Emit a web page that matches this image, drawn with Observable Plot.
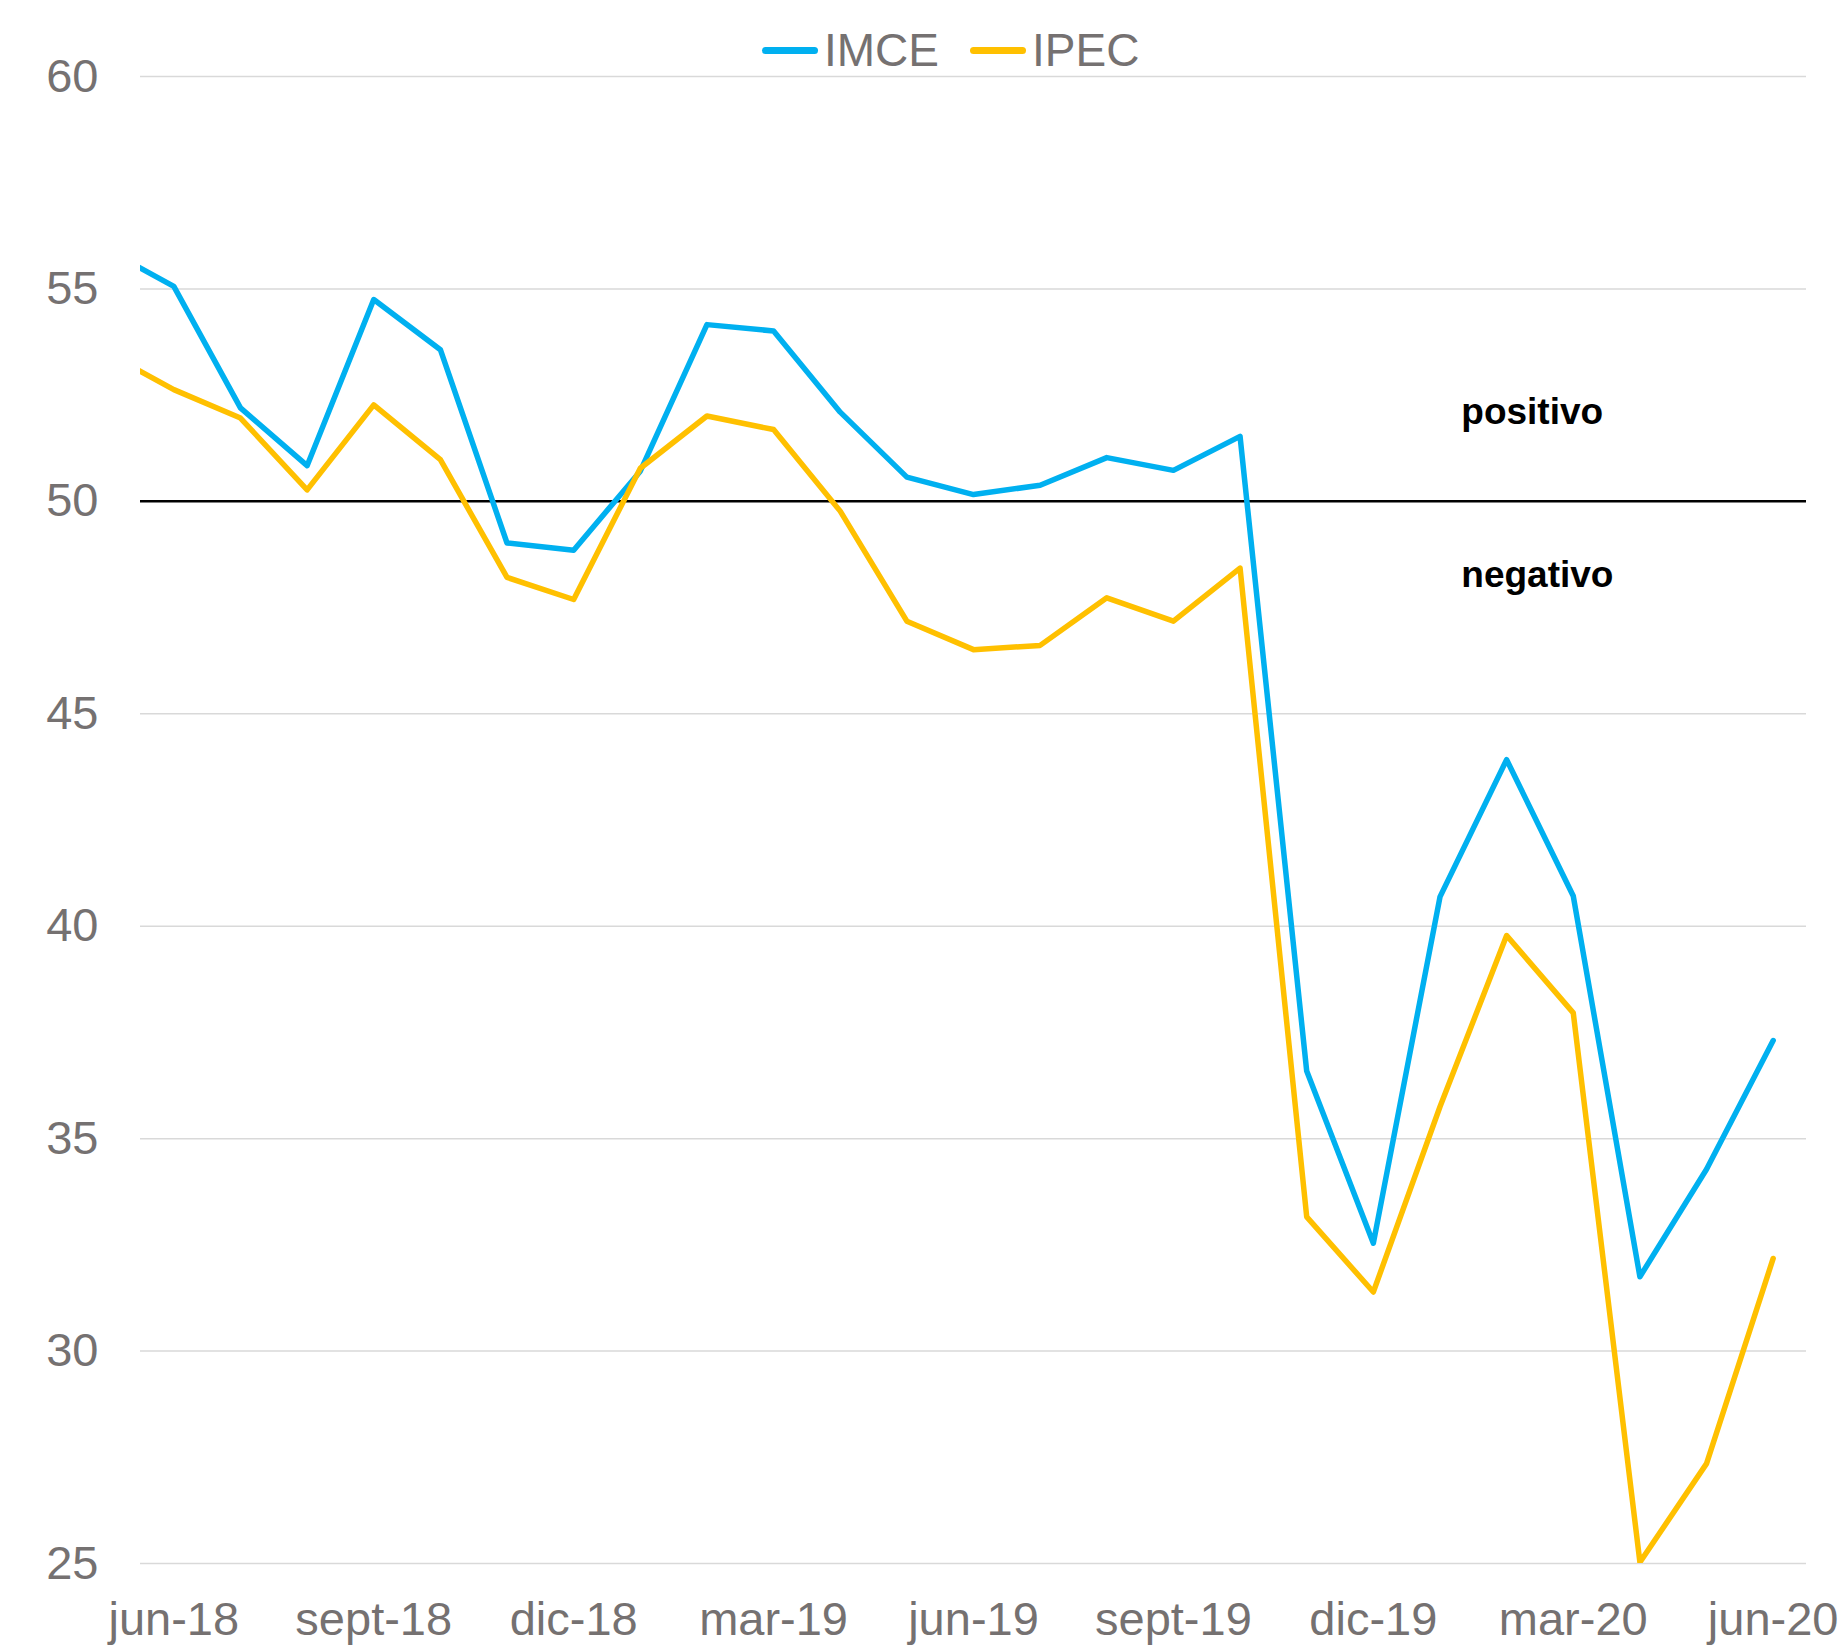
<!DOCTYPE html>
<html>
<head>
<meta charset="utf-8">
<script src="https://cdn.jsdelivr.net/npm/d3@7"></script>
<script src="https://cdn.jsdelivr.net/npm/@observablehq/plot@0.6"></script>
<style>
  html, body { margin: 0; padding: 0; background: #fff; }
  body { width: 1843px; height: 1646px; overflow: hidden; font-family: "Liberation Sans", Arial, sans-serif; }
  #legend { position: relative; height: 40px; z-index: 2; }
  #legend .sw { position: absolute; top: 47px; width: 56px; height: 7px; border-radius: 3.5px; }
  #legend .lb { position: absolute; top: 27px; font-size: 46px; line-height: 46px; color: #757171; white-space: nowrap; }
  #chart { position: relative; z-index: 1; }
</style>
</head>
<body>
<div id="legend"></div>
<div id="chart"></div>
<script>
// Months (may-18 lies just left of the visible axis; its segment is clipped at the frame)
const months = ["may-18","jun-18","jul-18","ago-18","sept-18","oct-18","nov-18","dic-18",
  "ene-19","feb-19","mar-19","abr-19","may-19","jun-19","jul-19","ago-19","sept-19","oct-19","nov-19","dic-19",
  "ene-20","feb-20","mar-20","abr-20","may-20","jun-20"];
const imce = [55.92, 55.06, 52.20, 50.84, 54.75, 53.57, 49.02, 48.85,
  50.71, 54.16, 54.01, 52.10, 50.57, 50.16, 50.38, 51.03, 50.73, 51.53, 36.59, 32.54,
  40.69, 43.92, 40.71, 31.75, 34.28, 37.31];
const ipec = [53.49, 52.63, 51.96, 50.27, 52.27, 50.98, 48.21, 47.69,
  50.78, 52.01, 51.69, 49.77, 47.18, 46.51, 46.61, 47.73, 47.18, 48.43, 33.16, 31.39,
  35.75, 39.78, 37.96, 25.03, 27.35, 32.18];
const seriesNames = ["IMCE", "IPEC"];
const seriesColors = ["#00B0F0", "#FFC000"];
const xTickLabels = ["jun-18","sept-18","dic-18","mar-19","jun-19","sept-19","dic-19","mar-20","jun-20"];
const yTicks = [25, 30, 35, 40, 45, 50, 55, 60];
const threshold = 50;
const annotations = [
  {label: "positivo", month: 20.32, value: 51.83},
  {label: "negativo", month: 20.32, value: 47.98}
];

const rows = months.map((m, i) => ({i, m, IMCE: imce[i], IPEC: ipec[i]}));
const xTicks = xTickLabels.map(l => months.indexOf(l));
const firstIdx = months.indexOf(xTickLabels[0]);

// Legend
const legend = document.getElementById("legend");
const legendPos = [{sw: 762, lb: 824}, {sw: 970, lb: 1032}];
seriesNames.forEach((name, k) => {
  const sw = document.createElement("div");
  sw.className = "sw"; sw.style.left = legendPos[k].sw + "px"; sw.style.background = seriesColors[k];
  const lb = document.createElement("div");
  lb.className = "lb"; lb.style.left = legendPos[k].lb + "px"; lb.textContent = name;
  legend.appendChild(sw); legend.appendChild(lb);
});

const chart = Plot.plot({
  width: 1843,
  height: 1606,
  marginTop: 36,
  marginBottom: 83,
  marginLeft: 140,
  marginRight: 37,
  style: {fontFamily: '"Liberation Sans", Arial, sans-serif', fontSize: "47px", color: "#757171", background: "transparent", overflow: "visible"},
  x: {type: "linear", domain: [firstIdx - 0.5, months.length - 0.5]},
  y: {domain: [yTicks[0], yTicks[yTicks.length - 1]]},
  marks: [
    Plot.ruleY(yTicks, {stroke: "#D9D9D9", strokeWidth: 1.5}),
    Plot.ruleY([threshold], {stroke: "#000", strokeWidth: 2.5}),
    Plot.axisY({ticks: yTicks, tickSize: 0, tickPadding: 42, fontSize: 47, fill: "#757171", label: null}),
    Plot.axisX({ticks: xTicks, tickFormat: i => months[i], tickSize: 0, tickPadding: 38, fontSize: 47, fill: "#757171", label: null}),
    ...seriesNames.map((name, k) => Plot.line(rows, {
      x: "i", y: name, stroke: seriesColors[k], strokeWidth: 5.5,
      strokeLinejoin: "round", strokeLinecap: "round", clip: true
    })),
    Plot.text(annotations, {
      x: "month", y: "value", text: "label", textAnchor: "start", lineAnchor: "bottom",
      fontSize: 37, fontWeight: "bold", fill: "#000"
    })
  ]
});
document.getElementById("chart").appendChild(chart);
</script>
</body>
</html>
